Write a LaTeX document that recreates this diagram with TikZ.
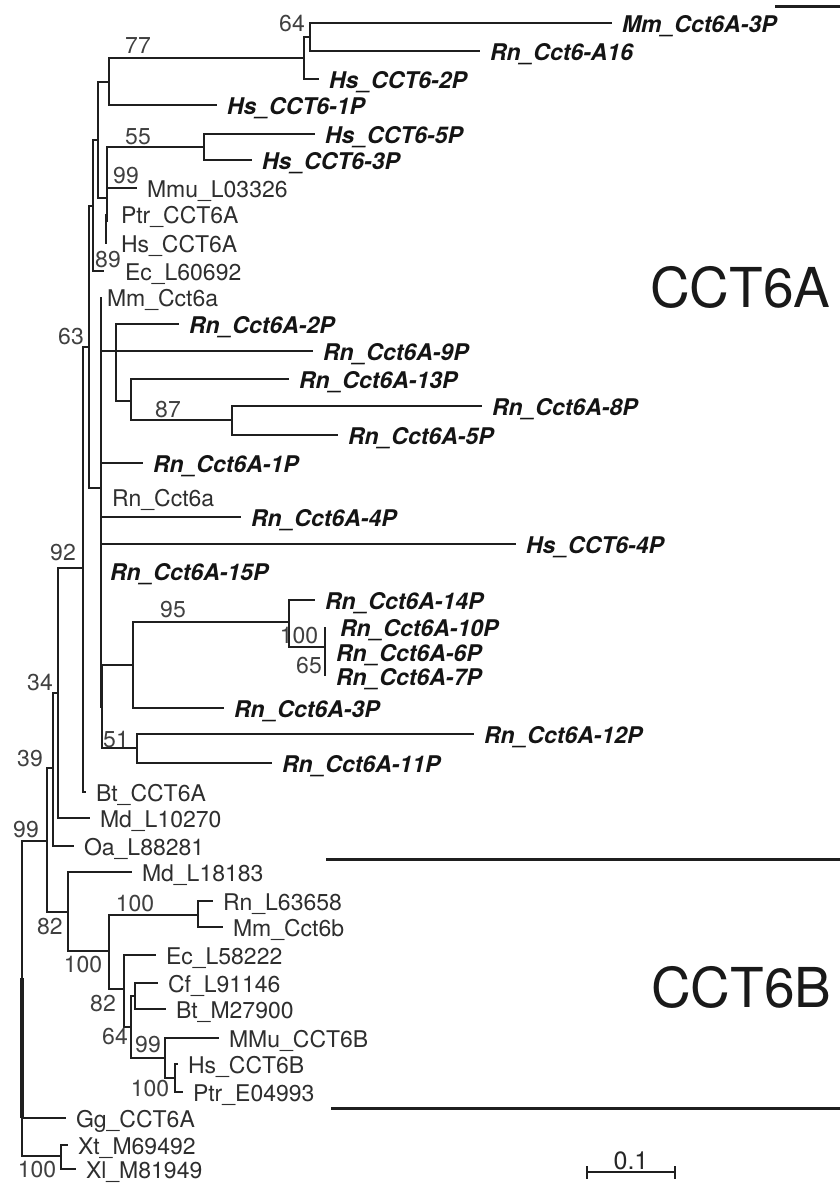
\documentclass[tikz,border=0pt]{standalone}
\usepackage{fontspec}
\setmainfont{TeX Gyre Heros}
\usepackage{tikz}
\usetikzlibrary{positioning}

\begin{document}
\begin{tikzpicture}[x=1pt, y=-1pt,
    branch/.style={line width=2.1pt, draw=black!88},
    pseudo/.style={anchor=west, inner xsep=10pt, inner ysep=0pt, outer sep=0pt,
        text height=19pt, text depth=0pt,
        font=\fontsize{23}{26}\selectfont\bfseries\itshape, text=black!92},
    gene/.style={pseudo, font=\fontsize{23}{26}\selectfont, text=black!82},
    boot/.style={font=\fontsize{23}{26}\selectfont, text=black!75, inner sep=0pt},
    clade/.style={anchor=base west, inner sep=0pt,
        font=\fontsize{55}{55}\selectfont, text=black!90},
    bar/.style={line width=3pt, draw=black!88}
]
\useasboundingbox (0,0) rectangle (840,1184);

% internal nodes
\coordinate (n64) at (310,37);
\coordinate (n77b) at (304,58);
\coordinate (n77) at (109,82);
\coordinate (nh) at (98,140);
\coordinate (n55) at (204,147);
\coordinate (n55p) at (107,198);
\coordinate (nph) at (106,221);
\coordinate (n89) at (93,206);
\coordinate (n63) at (89,347);
\coordinate (n2p) at (116,351);
\coordinate (n13) at (131,401);
\coordinate (n87) at (232,420);
\coordinate (nrn) at (101,488);
\coordinate (n100a) at (289,622);
\coordinate (n65) at (325,647);
\coordinate (n95) at (133,665);
\coordinate (nlow) at (102,707);
\coordinate (n51) at (137,748);
\coordinate (n92) at (83,568);
\coordinate (n34) at (58,693);
\coordinate (n39) at (53,768);
\coordinate (n99) at (47,841);
\coordinate (n82a) at (68,912);
\coordinate (n100c) at (198,915);
\coordinate (n100b) at (109,951);
\coordinate (n82b) at (124,989);
\coordinate (ncf) at (135,996);
\coordinate (n64b) at (131,1027);
\coordinate (n99b) at (165,1058);
\coordinate (n100d) at (175,1078);
\coordinate (nx) at (61,1156);
\coordinate (root) at (22,1000);

% leaves
\node[pseudo] (mm3p) at (612,23) {Mm\_Cct6A-3P};
\node[pseudo] (rnA16) at (480,51) {Rn\_Cct6-A16};
\node[pseudo] (hs2p) at (319,79) {Hs\_CCT6-2P};
\node[pseudo] (hs1p) at (217,105) {Hs\_CCT6-1P};
\node[pseudo] (hs5p) at (315,134) {Hs\_CCT6-5P};
\node[pseudo] (hs3p) at (252,160) {Hs\_CCT6-3P};
\node[gene] (mmuL03326) at (137,188) {Mmu\_L03326};
\node[gene, inner xsep=15pt] (ptr6a) at (106,214) {Ptr\_CCT6A};
\node[gene, inner xsep=14pt] (hs6a) at (107,243) {Hs\_CCT6A};
\node[gene, inner xsep=21pt] (ecL60692) at (104,271) {Ec\_L60692};
\node[gene, inner xsep=6pt] (mm6a) at (101,297) {Mm\_Cct6a};
\node[pseudo] (rn2p) at (179,324) {Rn\_Cct6A-2P};
\node[pseudo] (rn9p) at (313,351) {Rn\_Cct6A-9P};
\node[pseudo] (rn13p) at (289,379) {Rn\_Cct6A-13P};
\node[pseudo] (rn8p) at (482,406) {Rn\_Cct6A-8P};
\node[pseudo] (rn5p) at (338,435) {Rn\_Cct6A-5P};
\node[pseudo] (rn1p) at (143,463) {Rn\_Cct6A-1P};
\node[gene, inner xsep=11pt] (rn6a) at (101,497) {Rn\_Cct6a};
\node[pseudo] (rn4p) at (241,517) {Rn\_Cct6A-4P};
\node[pseudo] (hs4p) at (516,544) {Hs\_CCT6-4P};
\node[pseudo, inner xsep=9pt] (rn15p) at (101,571) {Rn\_Cct6A-15P};
\node[pseudo] (rn14p) at (315,600) {Rn\_Cct6A-14P};
\node[pseudo, inner xsep=15pt] (rn10p) at (325,627) {Rn\_Cct6A-10P};
\node[pseudo, inner xsep=11pt] (rn6p) at (325,652) {Rn\_Cct6A-6P};
\node[pseudo, inner xsep=11pt] (rn7p) at (325,676) {Rn\_Cct6A-7P};
\node[pseudo] (rn3p) at (224,708) {Rn\_Cct6A-3P};
\node[pseudo] (rn12p) at (474,734) {Rn\_Cct6A-12P};
\node[pseudo] (rn11p) at (272,763) {Rn\_Cct6A-11P};
\node[gene] (bt6a) at (86,792) {Bt\_CCT6A};
\node[gene] (mdL10270) at (90,818) {Md\_L10270};
\node[gene] (oaL88281) at (74,846) {Oa\_L88281};
\node[gene] (mdL18183) at (132,872) {Md\_L18183};
\node[gene] (rnL63658) at (213,901) {Rn\_L63658};
\node[gene] (mm6b) at (223,927) {Mm\_Cct6b};
\node[gene] (ecL58222) at (156,955) {Ec\_L58222};
\node[gene] (cfL91146) at (158,983) {Cf\_L91146};
\node[gene] (btM27900) at (166,1009) {Bt\_M27900};
\node[gene] (mmu6b) at (219,1038) {MMu\_CCT6B};
\node[gene] (hs6b) at (178,1064) {Hs\_CCT6B};
\node[gene] (ptrE04993) at (183,1092) {Ptr\_E04993};
\node[gene] (gg6a) at (66,1118) {Gg\_CCT6A};
\node[gene] (xtM69492) at (68,1145) {Xt\_M69492};
\node[gene] (xlM81949) at (76,1169) {Xl\_M81949};

% branches
\foreach \a/\b in {n64/mm3p, n64/rnA16, n77b/n64, n77b/hs2p, n77/n77b, n77/hs1p,
    nh/n77, nh/n55p, n55/hs5p, n55/hs3p, n55p/n55, n55p/mmuL03326, n55p/nph,
    nph/ptr6a, nph/hs6a, n89/nh, n89/ecL60692, n63/n89, n63/nrn,
    nrn/mm6a, nrn/n2p, n2p/rn2p, n2p/rn9p, n2p/n13, n13/rn13p, n13/n87,
    n87/rn8p, n87/rn5p, nrn/rn1p, nrn/rn6a, nrn/rn4p, nrn/hs4p, nrn/rn15p,
    nrn/nlow, nlow/n95, nlow/n51, n95/n100a, n95/rn3p, n100a/rn14p, n100a/n65,
    n65/rn10p, n65/rn6p, n65/rn7p, n51/rn12p, n51/rn11p, n92/n63, n92/bt6a,
    n34/n92, n34/mdL10270, n39/n34, n39/oaL88281, n99/n39, n99/n82a,
    n82a/mdL18183, n82a/n100b, n100b/n100c, n100b/n82b, n100c/rnL63658,
    n100c/mm6b, n82b/ecL58222, n82b/n64b, n64b/ncf, n64b/n99b, ncf/cfL91146,
    ncf/btM27900, n99b/mmu6b, n99b/n100d, n100d/hs6b, n100d/ptrE04993,
    root/n99, root/gg6a, root/nx, nx/xtM69492, nx/xlM81949} {
    \draw[branch] (\a) |- (\b);
}
\draw[branch, line width=3.6pt] (22,978) -- (22,1118);

% bootstrap values
\node[boot] (b64) at (292,24) {64};
\node[boot] (b77) at (138,46) {77};
\node[boot] (b55) at (138,137) {55};
\node[boot] (b99a) at (126,176) {99};
\node[boot] (b89) at (108,260) {89};
\node[boot] (b63) at (71,337) {63};
\node[boot] (b87) at (168,410) {87};
\node[boot] (b92) at (63,553) {92};
\node[boot] (b95) at (173,610) {95};
\node[boot] (b100a) at (299,636) {100};
\node[boot] (b65) at (309,666) {65};
\node[boot] (b34) at (40,683) {34};
\node[boot] (b51) at (116,740) {51};
\node[boot] (b39) at (30,759) {39};
\node[boot] (b99b) at (26,830) {99};
\node[boot] (b100c) at (135,904) {100};
\node[boot] (b82a) at (50,927) {82};
\node[boot] (b100b) at (83,965) {100};
\node[boot] (b82b) at (103,1004) {82};
\node[boot] (b64b) at (115,1037) {64};
\node[boot] (b99c) at (148,1045) {99};
\node[boot] (b100d) at (150,1089) {100};
\node[boot] (b100e) at (37,1170) {100};

% clades
\node[clade] (cct6a) at (650,307) {CCT6A};
\node[clade] (cct6b) at (651,1007) {CCT6B};
\coordinate (a1) at (775,6);
\coordinate (a2) at (840,6);
\coordinate (b1) at (326,859);
\coordinate (b2) at (840,859);
\coordinate (c1) at (331,1108);
\coordinate (c2) at (840,1108);
\draw[bar] (a1) -- (a2);
\draw[bar] (b1) -- (b2);
\draw[bar] (c1) -- (c2);

% scale bar
\coordinate (sbl) at (587,1172);
\coordinate (sbr) at (675,1172);
\draw[branch, line width=1.6pt] (sbl) -- (sbr);
\draw[branch, line width=1.6pt] ([yshift=6pt]sbl) -- ([yshift=-7pt]sbl);
\draw[branch, line width=1.6pt] ([yshift=6pt]sbr) -- ([yshift=-7pt]sbr);
\node[boot, anchor=base, text=black!85, font=\fontsize{25}{28}\selectfont] (sblab) at (631,1169) {0.1};

\end{tikzpicture}
\end{document}
